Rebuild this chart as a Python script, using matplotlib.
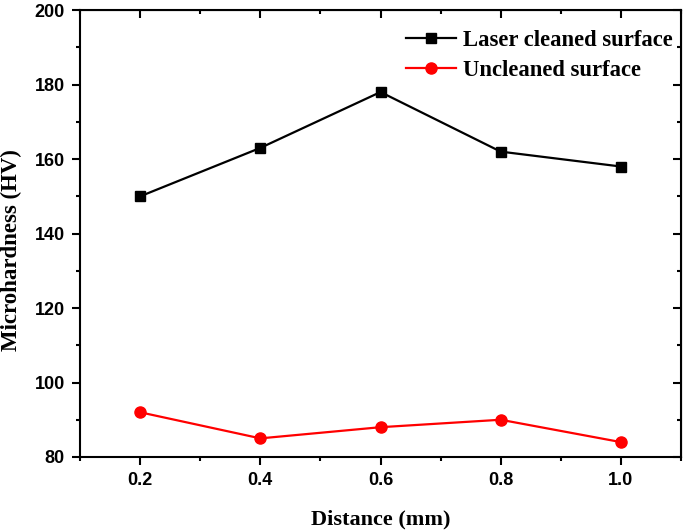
import matplotlib
matplotlib.use("Agg")
import matplotlib.pyplot as plt
from matplotlib.ticker import MultipleLocator

distance = [0.2, 0.4, 0.6, 0.8, 1.0]
laser_cleaned = [150, 163, 178, 162, 158]
uncleaned = [92, 85, 88, 90, 84]
xticks = [0.2, 0.4, 0.6, 0.8, 1.0]
yticks = [80, 100, 120, 140, 160, 180, 200]

fig = plt.figure(figsize=(6.85, 5.32), dpi=100)
ax = fig.add_axes([0.117, 0.141, 0.877, 0.840])

ax.plot(distance, laser_cleaned, color='black', marker='s', markersize=7, lw=1.6,
        label='Laser cleaned surface')
ax.plot(distance, uncleaned, color='#ff0000', marker='o', markersize=8, lw=1.6,
        label='Uncleaned surface')

ax.set_xlim(0.1, 1.1)
ax.set_ylim(80, 200)
ax.set_xticks(xticks)
ax.set_xticklabels([f"{v:.1f}" for v in xticks])
ax.set_yticks(yticks)
ax.xaxis.set_minor_locator(MultipleLocator(0.1))
ax.yaxis.set_minor_locator(MultipleLocator(10))

for s in ax.spines.values():
    s.set_linewidth(1.5)

ax.tick_params(which='major', direction='out', length=6, width=1.5,
               labelsize=13, pad=5)
ax.tick_params(which='minor', direction='out', length=3, width=1.5)
for lbl in ax.get_xticklabels() + ax.get_yticklabels():
    lbl.set_fontfamily('Liberation Sans')
    lbl.set_fontweight('bold')

top = ax.secondary_xaxis('top')
top.set_ticks(xticks)
top.xaxis.set_minor_locator(MultipleLocator(0.1))
top.tick_params(which='major', direction='in', length=6, width=1.5, labeltop=False)
top.tick_params(which='minor', direction='in', length=3, width=1.5)
right = ax.secondary_yaxis('right')
right.set_ticks(yticks)
right.yaxis.set_minor_locator(MultipleLocator(10))
right.tick_params(which='major', direction='in', length=6, width=1.5, labelright=False)
right.tick_params(which='minor', direction='in', length=3, width=1.5)

ax.set_xlabel('Distance (mm)', fontfamily='Liberation Serif', fontweight='bold',
              fontsize=16)
ax.set_ylabel('Microhardness (HV)', fontfamily='Liberation Serif', fontweight='bold',
              fontsize=16.5)
ax.xaxis.set_label_coords(0.5, -0.117)
ax.yaxis.set_label_coords(-0.097, 0.463)

leg = ax.legend(loc='upper right', frameon=False,
                prop={'family': 'Liberation Serif', 'weight': 'bold', 'size': 16.3},
                handlelength=2.2, borderaxespad=0, borderpad=0, labelspacing=0.42,
                handletextpad=0.3, bbox_to_anchor=(0.986, 0.956))

fig.savefig('out.png', dpi=100)
